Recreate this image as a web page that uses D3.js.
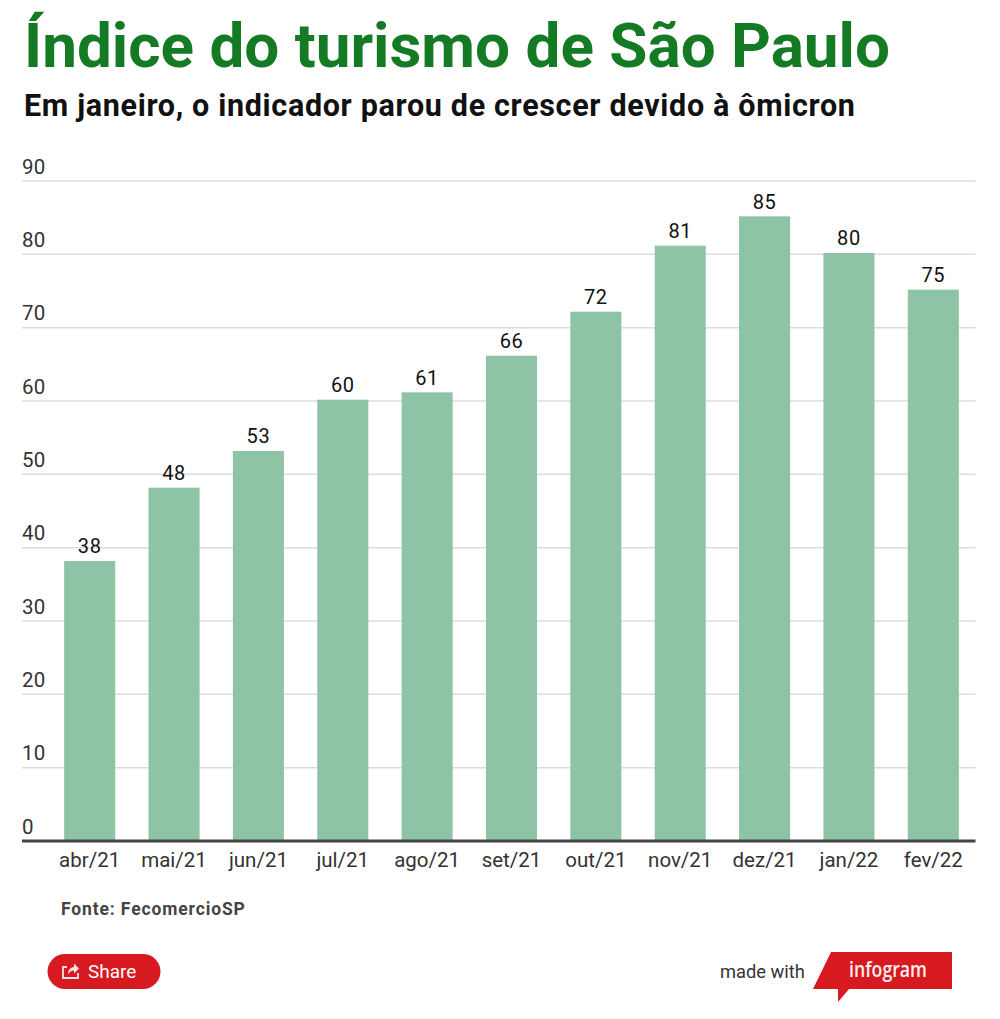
<!DOCTYPE html>
<html>
<head>
<meta charset="utf-8">
<script src="https://cdn.jsdelivr.net/npm/d3@7.9.0/dist/d3.min.js"></script>
<style>
  html, body { margin: 0; padding: 0; background: #fff; }
  svg { display: block; font-family: Roboto, sans-serif; }
</style>
</head>
<body>
<div id="chart"></div>
<script>
const months = ['abr/21', 'mai/21', 'jun/21', 'jul/21', 'ago/21', 'set/21', 'out/21', 'nov/21', 'dez/21', 'jan/22', 'fev/22'];
const values = [38, 48, 53, 60, 61, 66, 72, 81, 85, 80, 75];
const yTicks = [0, 10, 20, 30, 40, 50, 60, 70, 80, 90];

const width = 1000;
const height = 1019;
const margin = { top: 181, right: 24.5, bottom: 178, left: 47.5 };
const axisLeft = 22;
const barLift = 1.3; // bars sit a touch above the gridlines

const svg = d3.select('#chart')
  .append('svg')
  .attr('width', width)
  .attr('height', height);

const xScale = d3.scaleBand()
  .domain(months)
  .range([margin.left, width - margin.right])
  .paddingInner(0.395)
  .paddingOuter(0.1975);

const yScale = d3.scaleLinear()
  .domain([0, 90])
  .range([height - margin.bottom, margin.top]);

// Title block
svg.append('text')
  .attr('x', 24)
  .attr('y', 66.5)
  .attr('fill', '#147a24')
  .attr('font-size', 62)
  .attr('font-weight', 700)
  .text('Índice do turismo de São Paulo');

svg.append('text')
  .attr('x', 24)
  .attr('y', 115.7)
  .attr('fill', '#111')
  .attr('font-size', 30.5)
  .attr('font-weight', 700)
  .attr('letter-spacing', 0.67)
  .text('Em janeiro, o indicador parou de crescer devido à ômicron');

// Gridlines and y labels
const grid = svg.append('g');
yTicks.filter(t => t > 0).forEach(t => {
  grid.append('line')
    .attr('x1', axisLeft)
    .attr('x2', width - margin.right)
    .attr('y1', yScale(t))
    .attr('y2', yScale(t))
    .attr('stroke', '#dcdcdc')
    .attr('stroke-width', 1.5);
});

svg.selectAll('.y-label')
  .data(yTicks)
  .join('text')
  .attr('class', 'y-label')
  .attr('x', 22)
  .attr('y', d => yScale(d) - 7.3)
  .attr('fill', '#333')
  .attr('font-size', 20.5)
  .attr('letter-spacing', 0.3)
  .text(d => d);

// Bars
svg.selectAll('.bar')
  .data(values)
  .join('rect')
  .attr('class', 'bar')
  .attr('x', (d, i) => xScale(months[i]))
  .attr('y', d => yScale(d) - barLift)
  .attr('width', xScale.bandwidth())
  .attr('height', d => yScale(0) - yScale(d) + barLift)
  .attr('fill', '#8fc3a6');

svg.selectAll('.bar-label')
  .data(values)
  .join('text')
  .attr('class', 'bar-label')
  .attr('x', (d, i) => xScale(months[i]) + xScale.bandwidth() / 2)
  .attr('y', d => yScale(d) - barLift - 7.7)
  .attr('text-anchor', 'middle')
  .attr('fill', '#111')
  .attr('font-size', 20)
  .attr('letter-spacing', 0.6)
  .text(d => d);

// Baseline
svg.append('line')
  .attr('x1', axisLeft)
  .attr('x2', width - margin.right)
  .attr('y1', yScale(0))
  .attr('y2', yScale(0))
  .attr('stroke', '#444')
  .attr('stroke-width', 3);

svg.selectAll('.x-label')
  .data(months)
  .join('text')
  .attr('class', 'x-label')
  .attr('x', d => xScale(d) + xScale.bandwidth() / 2)
  .attr('y', 867)
  .attr('text-anchor', 'middle')
  .attr('fill', '#333')
  .attr('font-size', 20.5)
  .text(d => d);

// Source
svg.append('text')
  .attr('x', 61)
  .attr('y', 915)
  .attr('fill', '#444')
  .attr('font-size', 17.5)
  .attr('font-weight', 700)
  .attr('letter-spacing', 0.87)
  .text('Fonte: FecomercioSP');

// Share button
const share = svg.append('g');
share.append('rect')
  .attr('x', 47.5)
  .attr('y', 954)
  .attr('width', 113)
  .attr('height', 35)
  .attr('rx', 17.5)
  .attr('fill', '#d71a1f');
share.append('path')
  .attr('d', 'M67 967h-4v11h15v-5')
  .attr('fill', 'none')
  .attr('stroke', '#fbe3e3')
  .attr('stroke-width', 1.8);
share.append('path')
  .attr('d', 'M68 974c0-4 3-7 6-7v-3.5l5 5-5 5v-3c-2 0-4 1-6 3.500z')
  .attr('fill', '#fbe3e3');
share.append('text')
  .attr('x', 88)
  .attr('y', 978)
  .attr('fill', '#fff')
  .attr('font-size', 19)
  .text('Share');

// Infogram badge
svg.append('text')
  .attr('x', 720)
  .attr('y', 978)
  .attr('fill', '#333')
  .attr('font-size', 18.3)
  .text('made with');
svg.append('path')
  .attr('d', 'M831 952H952V989H849L838 1002V989H813Z')
  .attr('fill', '#d71a1f');
svg.append('text')
  .attr('x', 849)
  .attr('y', 977)
  .attr('fill', '#fbeeee')
  .attr('font-size', 22)
  .attr('font-weight', 600)
  .attr('font-family', '"Open Sans", sans-serif')
  .attr('textLength', 78)
  .attr('lengthAdjust', 'spacingAndGlyphs')
  .text('infogram');
</script>
</body>
</html>
